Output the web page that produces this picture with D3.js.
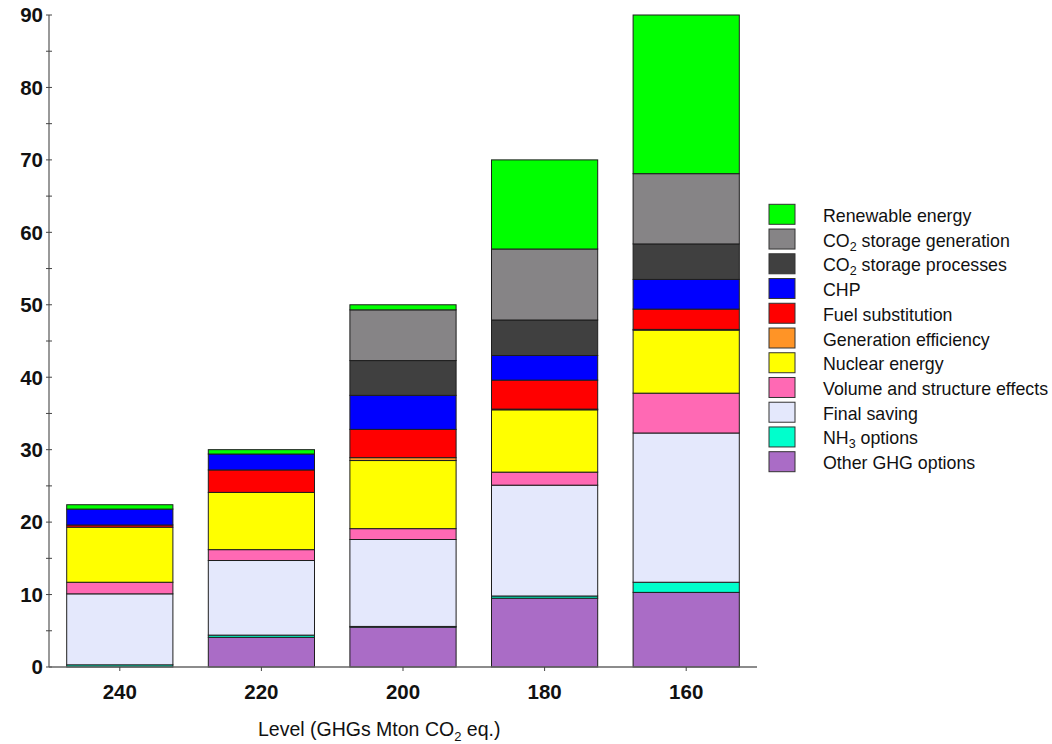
<!DOCTYPE html>
<html>
<head>
<meta charset="utf-8">
<script src="https://cdn.jsdelivr.net/npm/d3@7"></script>
<style>
  html, body { margin: 0; padding: 0; background: #fff; }
  svg { display: block; font-family: "Liberation Sans", Arial, sans-serif; }
</style>
</head>
<body>
<svg id="chart" width="1052" height="744"></svg>
<script>
// Emission level scenarios (x axis)
const levels = ["240", "220", "200", "180", "160"];

// Reduction per option, Mton CO2 eq., one value per level
const otherGHG      = [0.0, 4.1, 5.5, 9.5, 10.3];
const nh3Options    = [0.3, 0.3, 0.1, 0.3, 1.4];
const finalSaving   = [9.8, 10.3, 12.0, 15.3, 20.6];
const volumeEffects = [1.6, 1.5, 1.5, 1.8, 5.5];
const nuclear       = [7.6, 7.9, 9.4, 8.6, 8.7];
const genEfficiency = [0.0, 0.0, 0.4, 0.1, 0.1];
const fuelSubst     = [0.3, 3.1, 3.9, 4.0, 2.8];
const chp           = [2.2, 2.2, 4.7, 3.4, 4.1];
const co2Processes  = [0.0, 0.0, 4.8, 4.9, 4.9];
const co2Generation = [0.0, 0.0, 7.0, 9.8, 9.7];
const renewable     = [0.6, 0.6, 0.7, 12.3, 21.9];

const yTicks = [0, 10, 20, 30, 40, 50, 60, 70, 80, 90];

// Series in stacking order, bottom to top
const series = [
  { key: "other",   label: ["Other GHG options"],               color: "#aa6cc6", values: otherGHG },
  { key: "nh3",     label: ["NH", "3", " options"],             color: "#00ffcc", values: nh3Options },
  { key: "final",   label: ["Final saving"],                    color: "#e4e8fc", values: finalSaving },
  { key: "volume",  label: ["Volume and structure effects"],    color: "#ff69b4", values: volumeEffects },
  { key: "nuclear", label: ["Nuclear energy"],                  color: "#ffff00", values: nuclear },
  { key: "geneff",  label: ["Generation efficiency"],           color: "#ff9426", values: genEfficiency },
  { key: "fuel",    label: ["Fuel substitution"],               color: "#ff0000", values: fuelSubst },
  { key: "chp",     label: ["CHP"],                             color: "#0000ff", values: chp },
  { key: "co2proc", label: ["CO", "2", " storage processes"],   color: "#404040", values: co2Processes },
  { key: "co2gen",  label: ["CO", "2", " storage generation"],  color: "#868486", values: co2Generation },
  { key: "renew",   label: ["Renewable energy"],                color: "#00ff00", values: renewable }
];

const svg = d3.select("#chart");

const x = d3.scaleBand()
  .domain(levels)
  .range([49, 757])
  .paddingInner(0.25)
  .paddingOuter(0.125);

const y = d3.scaleLinear().domain([0, 90]).range([667, 15]);

// Stack the series
const table = levels.map((lv, i) => {
  const row = { level: lv };
  series.forEach(s => { row[s.key] = s.values[i]; });
  return row;
});
const stacked = d3.stack().keys(series.map(s => s.key))(table);

// Bars
const layers = svg.append("g").selectAll("g")
  .data(stacked)
  .join("g")
  .attr("fill", (d, i) => series[i].color);

layers.selectAll("rect")
  .data(d => d.filter(seg => seg[1] - seg[0] > 0))
  .join("rect")
  .attr("x", d => x(d.data.level))
  .attr("width", x.bandwidth())
  .attr("y", d => y(d[1]))
  .attr("height", d => y(d[0]) - y(d[1]))
  .attr("stroke", "#1e1e1e")
  .attr("stroke-width", 1);

// Y axis
const yAxis = svg.append("g").attr("transform", "translate(49,0)");
yAxis.append("line")
  .attr("x1", 0).attr("x2", 0)
  .attr("y1", y(90)).attr("y2", y(0))
  .attr("stroke", "#555").attr("stroke-width", 1.2);
yAxis.selectAll("line.tick")
  .data(d3.range(0, 95, 5))
  .join("line")
  .attr("class", "tick")
  .attr("x1", -3).attr("x2", 3)
  .attr("y1", d => y(d)).attr("y2", d => y(d))
  .attr("stroke", "#444").attr("stroke-width", 1);
yAxis.selectAll("text")
  .data(yTicks)
  .join("text")
  .attr("x", -6)
  .attr("y", d => y(d))
  .attr("dy", "0.36em")
  .attr("text-anchor", "end")
  .attr("font-size", 20.5)
  .attr("font-weight", "bold")
  .attr("fill", "#111")
  .text(d => d);

// X axis
const xAxis = svg.append("g");
xAxis.append("line")
  .attr("x1", 49).attr("x2", 757)
  .attr("y1", y(0)).attr("y2", y(0))
  .attr("stroke", "#666").attr("stroke-width", 1.5);
xAxis.selectAll("line.tick")
  .data(levels)
  .join("line")
  .attr("class", "tick")
  .attr("x1", d => x(d) + x.bandwidth() / 2)
  .attr("x2", d => x(d) + x.bandwidth() / 2)
  .attr("y1", y(0)).attr("y2", y(0) + 4)
  .attr("stroke", "#444");
xAxis.selectAll("text")
  .data(levels)
  .join("text")
  .attr("x", d => x(d) + x.bandwidth() / 2)
  .attr("y", 699)
  .attr("text-anchor", "middle")
  .attr("font-size", 20.5)
  .attr("font-weight", "bold")
  .attr("fill", "#111")
  .text(d => d);

// X axis title
const title = svg.append("text")
  .attr("x", 258)
  .attr("y", 736)
  .attr("font-size", 19.5)
  .attr("fill", "#111");
title.append("tspan").text("Level (GHGs Mton CO");
title.append("tspan").attr("font-size", 13).attr("dy", 5).text("2");
title.append("tspan").attr("dy", -5).text(" eq.)");

// Legend, top to bottom in reverse stacking order
const legendItems = series.slice().reverse();
const legend = svg.append("g");
const rows = legend.selectAll("g")
  .data(legendItems)
  .join("g")
  .attr("transform", (d, i) => `translate(769,${204.3 + i * 24.74})`);

rows.append("rect")
  .attr("width", 26).attr("height", 20)
  .attr("fill", d => d.color)
  .attr("stroke", "#333").attr("stroke-width", 1);

rows.each(function (d) {
  const t = d3.select(this).append("text")
    .attr("x", 54).attr("y", 17.5)
    .attr("font-size", 17.8)
    .attr("fill", "#111");
  if (d.label.length === 1) {
    t.text(d.label[0]);
  } else {
    t.append("tspan").text(d.label[0]);
    t.append("tspan").attr("font-size", 12.5).attr("dy", 4).text(d.label[1]);
    t.append("tspan").attr("dy", -4).text(d.label[2]);
  }
});
</script>
</body>
</html>
